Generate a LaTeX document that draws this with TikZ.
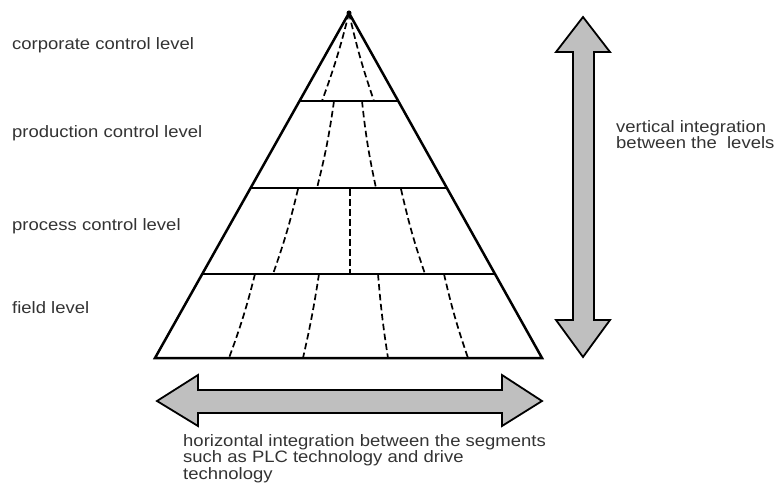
\documentclass[tikz,border=0pt]{standalone}
\usepackage{fontspec}
\setmainfont{Liberation Sans}
\newfontfamily\widesans[FakeStretch=1.12]{Liberation Sans}
\usetikzlibrary{calc}

\begin{document}
\begin{tikzpicture}[x=1pt,y=-1pt,line join=miter]
\tikzstyle{levelline}=[black,line width=2pt]
\tikzstyle{segline}=[black,line width=1.7pt,dash pattern=on 6.5pt off 3.5pt]
\tikzstyle{bigarrow}=[draw=black,line width=1.8pt,fill=black!25]
\tikzstyle{lvltext}=[anchor=base west,inner sep=0pt,text=black!80,align=left,
   font=\widesans\fontsize{16.5}{16.5}\selectfont]
\useasboundingbox (0,0) rectangle (774,501);

% pyramid
\coordinate (top) at (349,13);
\coordinate (bl) at (155,358);
\coordinate (br) at (542,358);
\draw[levelline,line width=2.5pt] (bl) -- (top) -- (br) -- cycle;
\draw[levelline,line width=2.6pt] ($(top)!0.255!(bl)$) -- ($(top)!0.255!(br)$);
\draw[levelline] ($(top)!0.507!(bl)$) -- ($(top)!0.507!(br)$);
\draw[levelline] ($(top)!0.757!(bl)$) -- ($(top)!0.757!(br)$);
\fill (top) circle (2.5);

% segments
\draw[segline] (top) to[bend left=3] (322,101);
\draw[segline] (top) to[bend right=3] (374,101);
\draw[segline] (334,101) to[bend left=3] (317,188);
\draw[segline] (362,101) to[bend right=3] (376,188);
\draw[segline] (298,189) to[bend left=3] (273,274);
\draw[segline] (350,189) -- (350,274);
\draw[segline] (401,189) to[bend right=3] (425,274);
\draw[segline] (255,274) to[bend left=3] (229,358);
\draw[segline] (319,274) to[bend left=2] (303,358);
\draw[segline] (378,274) to[bend right=2] (388,358);
\draw[segline] (444,274) to[bend right=3] (468,358);

% arrows
\draw[bigarrow] (583,17) -- (610,52) -- (594,52) -- (594,320) -- (610,320) -- (583,357)
   -- (556,320) -- (573,320) -- (573,52) -- (556,52) -- cycle;
\draw[bigarrow] (157,401) -- (198,375) -- (198,390) -- (502,390) -- (502,375) -- (542,401)
   -- (502,426) -- (502,413) -- (198,413) -- (198,426) -- cycle;

% texts (multi-line nodes sit on their last line)
\node[lvltext] (corp) at (12,49) {corporate control level};
\node[lvltext] (prod) at (12,137) {production control level};
\node[lvltext] (proc) at (12,230) {process control level};
\node[lvltext] (field) at (12,313) {field level};
\node[lvltext] (vert) at (616,148.5) {vertical integration\\between the~ levels};
\node[lvltext] (horiz) at (183,479) {horizontal integration between the segments\\such as PLC technology and drive\\technology};
\end{tikzpicture}
\end{document}
